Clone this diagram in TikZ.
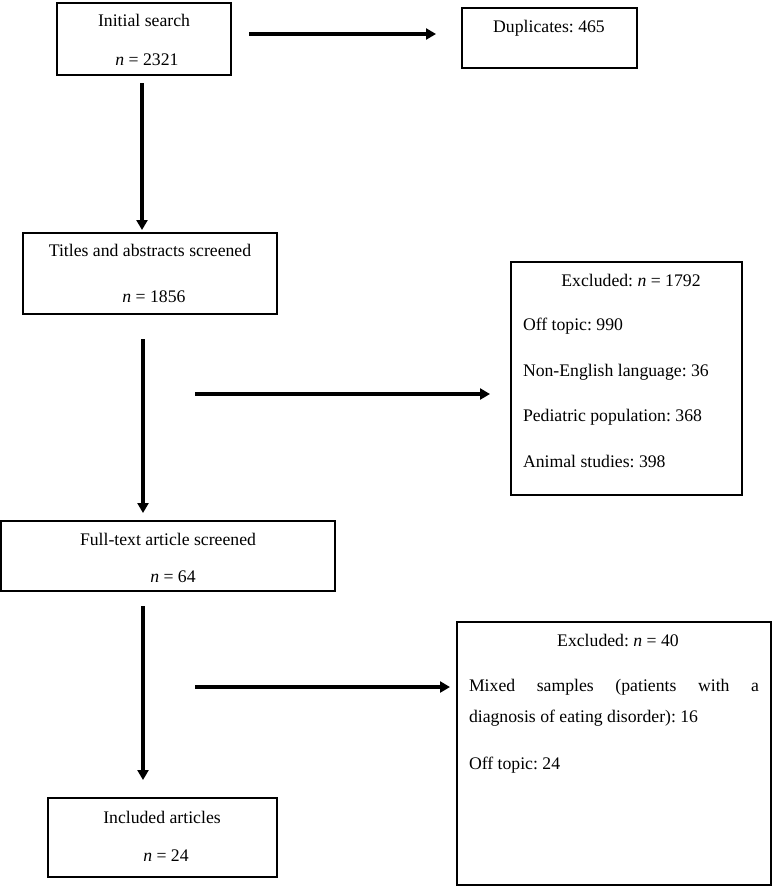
\documentclass[tikz,border=0pt]{standalone}
\usepackage{fontspec}
\setmainfont{Liberation Serif}
\usetikzlibrary{arrows.meta}
\frenchspacing
\begin{document}
\begin{tikzpicture}[x=1pt,y=-1pt,
  box/.style={draw, line width=2.2pt, inner sep=0pt, outer sep=0pt},
  arr/.style={line width=3.2pt, -{Triangle[length=10pt,width=11pt]}},
  txt/.style={inner sep=0pt, outer sep=0pt, font=\fontsize{17.7}{21}\selectfont\frenchspacing, anchor=base},
  ltxt/.style={txt, anchor=base west}]
\useasboundingbox (0,0) rectangle (772,886);
% boxes
\node[box, minimum width=174pt, minimum height=72pt] (init) at (144,39) {};
\node[box, minimum width=175pt, minimum height=60pt] (dup) at (549.5,38) {};
\node[box, minimum width=254pt, minimum height=81pt] (tit) at (150,273.5) {};
\node[box, minimum width=231pt, minimum height=233pt] (exc1) at (626.5,378.5) {};
\node[box, minimum width=334pt, minimum height=70pt] (full) at (168,556) {};
\node[box, minimum width=229pt, minimum height=79pt] (incl) at (162.5,837.5) {};
\node[box, minimum width=314pt, minimum height=263pt] (exc2) at (614,753.5) {};
% texts
\node[txt] (tinit) at (144,26.7) {Initial search};
\node[txt] (tinitn) at (147,65) {\textit{n} = 2321};
\node[txt] (tdup) at (549,32) {Duplicates: 465};
\node[txt] (ttit) at (150,256.5) {Titles and abstracts screened};
\node[txt] (ttitn) at (154,302) {\textit{n} = 1856};
\node[txt] (tex1) at (631,286) {Excluded: \textit{n} = 1792};
\node[ltxt] (tex1a) at (523,330.5) {Off topic: 990};
\node[ltxt] (tex1b) at (523,376.5) {Non-English language: 36};
\node[ltxt] (tex1c) at (523,421.5) {Pediatric population: 368};
\node[ltxt] (tex1d) at (523,467) {Animal studies: 398};
\node[txt] (tfull) at (168,545) {Full-text article screened};
\node[txt] (tfulln) at (173,582.7) {\textit{n} = 64};
\node[txt] (tincl) at (162,823.3) {Included articles};
\node[txt] (tincln) at (166,861) {\textit{n} = 24};
\node[txt] (tex2) at (618,646.7) {Excluded: \textit{n} = 40};
\node[ltxt] (tex2a) at (469,691.5) {\makebox[290pt][s]{Mixed samples (patients with a}};
\node[ltxt] (tex2b) at (469,722.5) {diagnosis of eating disorder): 16};
\node[ltxt] (tex2c) at (469,769) {Off topic: 24};
% connectors
\coordinate (a3s) at (195,394);
\coordinate (a5s) at (195,687);
\draw[arr] ([xshift=18pt,yshift=5pt]init.east) -- ([xshift=-26pt,yshift=4pt]dup.west);
\draw[arr] ([xshift=-2pt,yshift=-8pt]init.south) -- ([xshift=-8pt,yshift=3pt]tit.north);
\draw[arr] (a3s) -- ([xshift=-21pt,yshift=-15.5pt]exc1.west);
\draw[arr] ([xshift=-7pt,yshift=-25pt]tit.south) -- ([xshift=-25pt,yshift=8pt]full.north);
\draw[arr] (a5s) -- ([xshift=-7pt,yshift=66.5pt]exc2.west);
\draw[arr] ([xshift=-25pt,yshift=-15pt]full.south) -- ([xshift=-19.5pt,yshift=18pt]incl.north);
\end{tikzpicture}
\end{document}
